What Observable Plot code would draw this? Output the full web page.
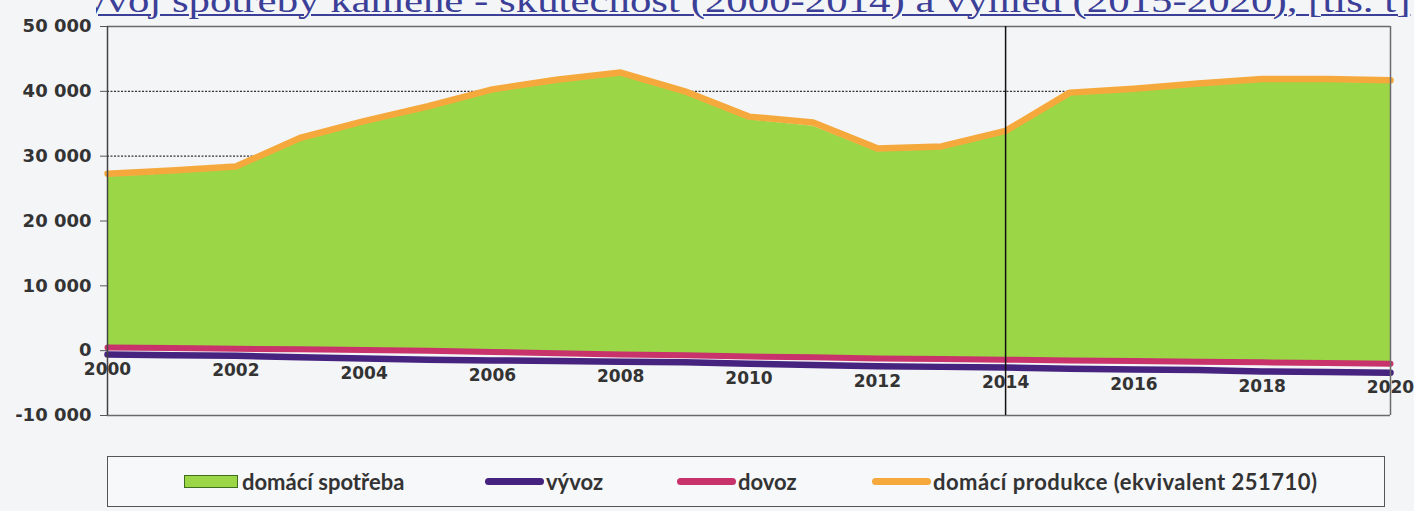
<!DOCTYPE html>
<html>
<head>
<meta charset="utf-8">
<script src="https://cdn.jsdelivr.net/npm/d3@7"></script>
<script src="https://cdn.jsdelivr.net/npm/@observablehq/plot@0.6"></script>
<style>
  html, body { margin: 0; padding: 0; background: #f4f5f7; }
  #wrap { position: relative; width: 1414px; height: 511px; overflow: hidden; }
  #titlebox { position: absolute; left: 96px; top: 0; width: 1318px; height: 24px; overflow: hidden; z-index: 2; }
  #title { position: absolute; top: -9px; right: 4px; white-space: nowrap;
    font-family: "Liberation Serif", serif; font-size: 34px; line-height: 20px;
    color: #3b3f98; text-decoration: underline; text-decoration-thickness: 2px;
    text-underline-offset: 2px; transform: scaleX(1.26); transform-origin: right center; }
  #chart { position: absolute; top: 0; left: 0; }
  #legend { position: absolute; left: 107px; top: 456px; width: 1278px; height: 51px;
    border: 1.5px solid #555; background: #f7f8fa; box-sizing: border-box;
    font-family: "Lato", "Open Sans", sans-serif; font-weight: bold; font-size: 22px; color: #333; }
  .item { position: absolute; top: 0; height: 100%; display: flex; align-items: center; }
  .sw { display: inline-block; margin-right: 3px; }
</style>
</head>
<body>
<div id="wrap">
  <div id="titlebox"><div id="title">Vývoj spotřeby kamene - skutečnost (2000-2014) a výhled (2015-2020), [tis. t]</div></div>
  <div id="chart"></div>
  <div id="legend"></div>
</div>
<script>
const years = [2000, 2001, 2002, 2003, 2004, 2005, 2006, 2007, 2008, 2009, 2010,
               2011, 2012, 2013, 2014, 2015, 2016, 2017, 2018, 2019, 2020];
const spotreba = [26800, 27300, 27900, 32300, 34900, 37200, 39800, 41300, 42400, 39500, 35600,
                  34600, 30700, 31000, 33400, 39300, 39900, 40700, 41400, 41400, 41200];
const produkce = [27300, 27800, 28400, 32800, 35400, 37700, 40300, 41800, 42900, 40000, 36100,
                  35200, 31200, 31500, 33900, 39800, 40400, 41200, 41900, 41900, 41700];
const dovoz = [500, 400, 300, 200, 100, 0, -200, -400, -600, -700, -900,
               -1000, -1200, -1300, -1400, -1500, -1600, -1700, -1800, -1900, -2000];
const vyvoz = [-600, -700, -800, -1000, -1200, -1400, -1500, -1600, -1700, -1800, -2000,
               -2200, -2400, -2500, -2600, -2800, -2900, -3000, -3200, -3300, -3400];
const xTicks = [2000, 2002, 2004, 2006, 2008, 2010, 2012, 2014, 2016, 2018, 2020];
const yTicks = [-10000, 0, 10000, 20000, 30000, 40000, 50000];
const gridValues = [10000, 20000, 30000, 40000];
const dividerYear = [2014];
const seriesNames = ["domácí spotřeba", "vývoz", "dovoz", "domácí produkce (ekvivalent 251710)"];
const colors = { spotreba: "#9ad645", vyvoz: "#45237e", dovoz: "#c8336b", produkce: "#f5a93c" };

const data = years.map((year, i) => ({
  year, spotreba: spotreba[i], produkce: produkce[i], dovoz: dovoz[i], vyvoz: vyvoz[i]
}));
const labelData = data.filter(d => xTicks.includes(d.year));

const fmt = d => d3.format(",")(d).replace(/,/g, " ").replace("−", "-");

const chart = Plot.plot({
  width: 1414,
  height: 440,
  marginLeft: 107,
  marginRight: 24,
  marginTop: 26,
  marginBottom: 25,
  style: { background: "transparent", fontFamily: "DejaVu Sans", fontWeight: "bold", fontSize: "18px", color: "#333" },
  x: { domain: [2000, 2020], axis: null },
  y: { domain: [-10000, 50000], axis: null },
  marks: [
    Plot.ruleY(gridValues, { stroke: "#333", strokeDasharray: "2,1.5", strokeWidth: 1.3 }),
    Plot.areaY(data, { x: "year", y1: "dovoz", y2: "spotreba", fill: colors.spotreba }),
    Plot.line(data, { x: "year", y: "vyvoz", stroke: colors.vyvoz, strokeWidth: 6.5, strokeLinejoin: "round" }),
    Plot.line(data, { x: "year", y: "dovoz", stroke: colors.dovoz, strokeWidth: 6, strokeLinejoin: "round" }),
    Plot.line(data, { x: "year", y: "produkce", stroke: colors.produkce, strokeWidth: 6.5, strokeLinejoin: "round" }),
    Plot.ruleY([50000, -10000], { stroke: "#6b6b6b", strokeWidth: 1.5 }),
    Plot.ruleX([2020], { stroke: "#6b6b6b", strokeWidth: 1.5 }),
    Plot.ruleX([2000], { stroke: "#444", strokeWidth: 1.5 }),
    Plot.ruleX(dividerYear, { stroke: "#111", strokeWidth: 1.5 }),
    Plot.axisY({ ticks: yTicks, tickFormat: fmt, tickSize: 7, tickPadding: 9, stroke: "#555",
                 fontSize: 18, fontWeight: "bold", fill: "#333", fontFamily: "DejaVu Sans" }),
    Plot.text(labelData, { x: "year", y: "vyvoz", text: d => String(d.year), dy: 15, fontSize: 17,
                           fontWeight: "bold", fill: "#333", fontFamily: "DejaVu Sans" })
  ]
});
document.getElementById("chart").appendChild(chart);

// legend
const legend = document.getElementById("legend");
const legendItems = [
  { name: seriesNames[0], color: colors.spotreba, type: "area", left: 76 },
  { name: seriesNames[1], color: colors.vyvoz, type: "line", left: 377 },
  { name: seriesNames[2], color: colors.dovoz, type: "line", left: 569 },
  { name: seriesNames[3], color: colors.produkce, type: "line", left: 764 }
];
for (const it of legendItems) {
  const el = document.createElement("div");
  el.className = "item";
  el.style.left = it.left + "px";
  const sw = document.createElement("span");
  sw.className = "sw";
  if (it.type === "area") {
    sw.style.cssText = `width:54px;height:13px;background:${it.color};border:1.5px solid #3f6e1c;box-sizing:border-box;margin-right:4px;`;
  } else {
    sw.style.cssText = `width:59px;height:7px;background:${it.color};border-radius:4px;margin-right:2px;`;
  }
  const t = document.createElement("span");
  t.textContent = it.name;
  if (it.name === seriesNames[3]) t.style.letterSpacing = "0.5px";
  el.appendChild(sw);
  el.appendChild(t);
  legend.appendChild(el);
}
</script>
</body>
</html>
